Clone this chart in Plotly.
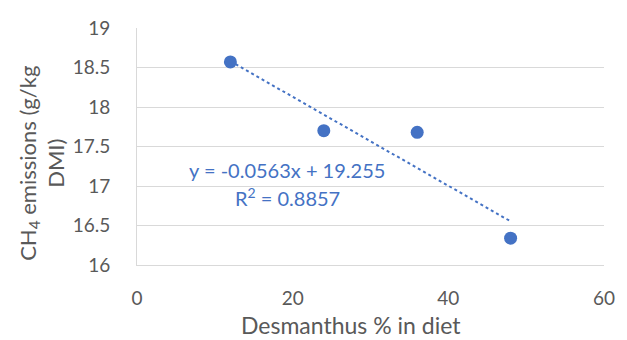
import plotly.graph_objects as go

# Data
diet_pct = [12, 24, 36, 48]
ch4 = [18.57, 17.70, 17.68, 16.34]
trend_slope = -0.0563
trend_intercept = 19.255
r_squared = 0.8857
x_ticks = [0, 20, 40, 60]
y_ticks = [16, 16.5, 17, 17.5, 18, 18.5, 19]

blue = "#4472C4"
gray_text = "#595959"
font_family = "Lato, Open Sans, sans-serif"

trend_x = [min(diet_pct), max(diet_pct)]
trend_y = [trend_slope * x + trend_intercept for x in trend_x]

fig = go.Figure()
fig.add_trace(go.Scatter(x=trend_x, y=trend_y, mode="lines",
                         line=dict(color=blue, width=2, dash="dot"),
                         hoverinfo="skip", showlegend=False))
fig.add_trace(go.Scatter(x=diet_pct, y=ch4, mode="markers",
                         marker=dict(color=blue, size=13),
                         showlegend=False))

fig.add_annotation(x=19.3, y=17.20, xref="x", yref="y",
                   text=f"y = {trend_slope}x + {trend_intercept}",
                   showarrow=False, font=dict(family=font_family, size=20, color=blue))
fig.add_annotation(x=19.3, y=16.86, xref="x", yref="y",
                   text=f"R<sup>2</sup> = {r_squared}",
                   showarrow=False, font=dict(family=font_family, size=20, color=blue))

# axis titles
fig.add_annotation(x=-0.204, y=0.43, xref="paper", yref="paper",
                   xanchor="center", yanchor="middle",
                   text="CH<sub>4</sub> emissions (g/kg<br>DMI)",
                   textangle=-90, showarrow=False, align="center",
                   font=dict(family=font_family, size=22, color=gray_text))
fig.add_annotation(x=0.459, y=-0.253, xref="paper", yref="paper",
                   xanchor="center", yanchor="middle",
                   text="Desmanthus % in diet", showarrow=False,
                   font=dict(family=font_family, size=23, color=gray_text))

fig.update_layout(
    width=627, height=340,
    margin=dict(l=137, r=15, t=28, b=75),
    paper_bgcolor="white", plot_bgcolor="white",
    font=dict(family=font_family, size=18, color=gray_text),
    xaxis=dict(range=[0, 60], tickvals=x_ticks, showgrid=False,
               showline=True, linecolor="#d9d9d9", linewidth=1,
               zeroline=False, ticks="", ticklabelstandoff=16,
               tickfont=dict(size=19)),
    yaxis=dict(range=[16, 19], tickvals=y_ticks, showgrid=True,
               gridcolor="#d9d9d9", gridwidth=1,
               showline=True, linecolor="#d9d9d9", linewidth=1,
               zeroline=False, ticks="", ticklabelstandoff=22,
               tickfont=dict(size=19)),
)

fig.write_html("out.html")
